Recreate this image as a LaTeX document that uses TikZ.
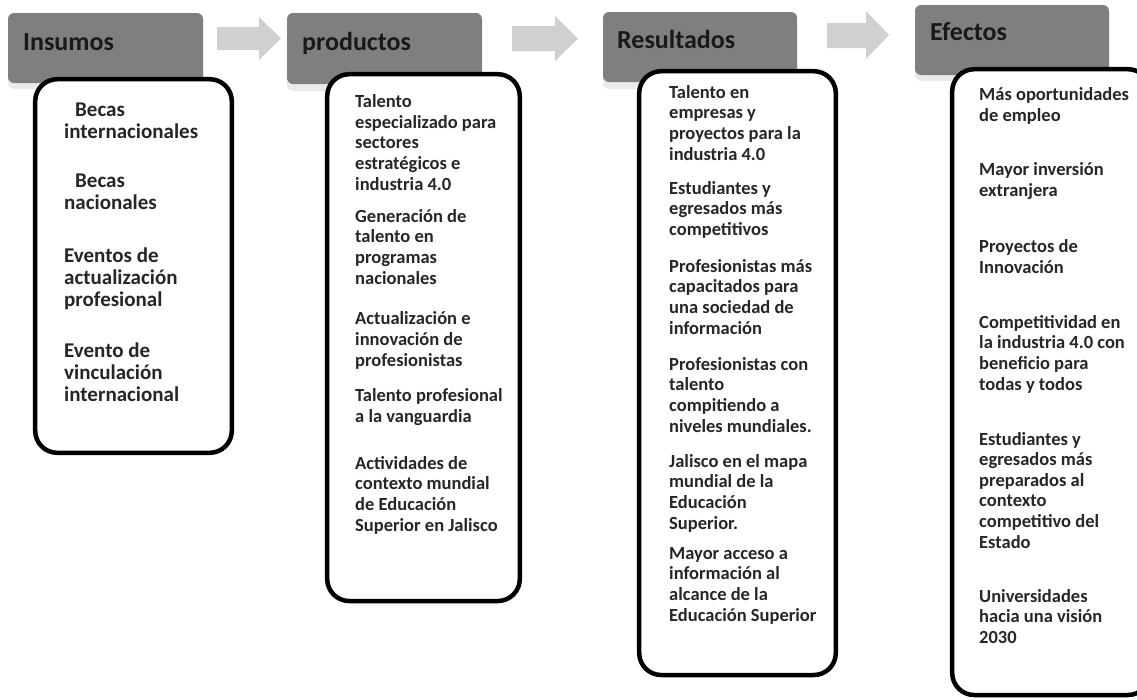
\documentclass[tikz,border=0pt]{standalone}
\usepackage{fontspec}
\setmainfont{Carlito}
\definecolor{hdr}{HTML}{7F7F7F}
\definecolor{hdrlow}{HTML}{EAEAEA}
\definecolor{arr}{HTML}{D0D0D0}
\definecolor{txt}{HTML}{262626}
\tikzset{
  hdrbox/.style={fill=hdr, draw=none, rounded corners=6pt},
  hdrfoot/.style={fill=hdrlow, draw=none, rounded corners=6pt},
  listbox/.style={fill=white, draw=black, line width=4.5pt, rounded corners=22pt},
  blockarrow/.style={fill=arr, draw=none},
  hdrtext/.style={anchor=base west, inner sep=0pt, text=black!90, font=\fontsize{26}{30}\selectfont\bfseries},
  itemtext/.style={anchor=base west, inner sep=0pt, align=left, text=txt, font=\fontsize{18.5}{20.6}\selectfont\bfseries},
  bigitem/.style={itemtext, font=\fontsize{21}{22}\selectfont\bfseries}
}
\begin{document}
\begin{tikzpicture}[x=1pt,y=-1pt]
\useasboundingbox (0,0) rectangle (1137,699);
% headers (dark body with a light lower fringe)
\fill[hdrfoot] (8,70) rectangle (203,89);
\fill[hdrbox] (8,13) rectangle (203,83);
\fill[hdrfoot] (287,70) rectangle (482,91);
\fill[hdrbox] (287,13) rectangle (482,84);
\fill[hdrfoot] (603,70) rectangle (797,89);
\fill[hdrbox] (603,12) rectangle (797,82);
\fill[hdrfoot] (915,60) rectangle (1109,81);
\fill[hdrbox] (915,5) rectangle (1109,75);
% block arrows
\fill[blockarrow] (217,27) -- (259,27) -- (259,17) -- (281,38.5) -- (259,60) -- (259,50) -- (217,50) -- cycle;
\fill[blockarrow] (512,26) -- (555,26) -- (555,16) -- (578,38.5) -- (555,61) -- (555,51) -- (512,51) -- cycle;
\fill[blockarrow] (827,23) -- (866,23) -- (866,11) -- (889,35) -- (866,59) -- (866,48) -- (827,48) -- cycle;
% list boxes
\draw[listbox] (35.2,79.2) rectangle (231.8,452.8);
\draw[listbox] (327.2,74.2) rectangle (519.8,601);
\draw[listbox] (639.2,71.2) rectangle (835.8,675);
\draw[listbox] (952.2,69.2) rectangle (1150,695);
% header texts
\node[hdrtext] (hIns) at (23,50) {Insumos};
\node[hdrtext] (hPro) at (302,50) {productos};
\node[hdrtext] (hRes) at (617,48) {Resultados};
\node[hdrtext] (hEfe) at (930,40) {Efectos};
% Insumos (anchored at the baseline of the last line)
\node[bigitem] (i1) at (64,138) {\hspace*{11pt}Becas\\internacionales};
\node[bigitem] (i2) at (64,209) {\hspace*{11pt}Becas\\nacionales};
\node[bigitem] (i3) at (64,306) {Eventos de\\actualización\\profesional};
\node[bigitem] (i4) at (64,401) {Evento de\\vinculación\\internacional};
% productos
\node[itemtext] (p1) at (355,190) {Talento\\especializado para\\sectores\\estratégicos e\\industria 4.0};
\node[itemtext] (p2) at (355,284) {Generación de\\talento en\\programas\\nacionales};
\node[itemtext] (p3) at (355,366) {Actualización e\\innovación de\\profesionistas};
\node[itemtext] (p4) at (355,422) {Talento profesional\\a la vanguardia};
\node[itemtext] (p5) at (355,531) {Actividades de\\contexto mundial\\de Educación\\Superior en Jalisco};
% Resultados
\node[itemtext] (r1) at (669,160) {Talento en\\empresas y\\proyectos para la\\industria 4.0};
\node[itemtext] (r2) at (669,235.5) {Estudiantes y\\egresados más\\competitivos};
\node[itemtext] (r3) at (669,334) {Profesionistas más\\capacitados para\\una sociedad de\\información};
\node[itemtext] (r4) at (669,432) {Profesionistas con\\talento\\compitiendo a\\niveles mundiales.};
\node[itemtext] (r5) at (669,529) {Jalisco en el mapa\\mundial de la\\Educación\\Superior.};
\node[itemtext] (r6) at (669,621) {Mayor acceso a\\información al\\alcance de la\\Educación Superior};
% Efectos
\node[itemtext] (e1) at (979,121) {Más oportunidades\\de empleo};
\node[itemtext] (e2) at (979,196) {Mayor inversión\\extranjera};
\node[itemtext] (e3) at (979,273) {Proyectos de\\Innovación};
\node[itemtext] (e4) at (979,390) {Competitividad en\\la industria 4.0 con\\beneficio para\\todas y todos};
\node[itemtext] (e5) at (979,548) {Estudiantes y\\egresados más\\preparados al\\contexto\\competitivo del\\Estado};
\node[itemtext] (e6) at (979,643.5) {Universidades\\hacia una visión\\2030};
\end{tikzpicture}
\end{document}
